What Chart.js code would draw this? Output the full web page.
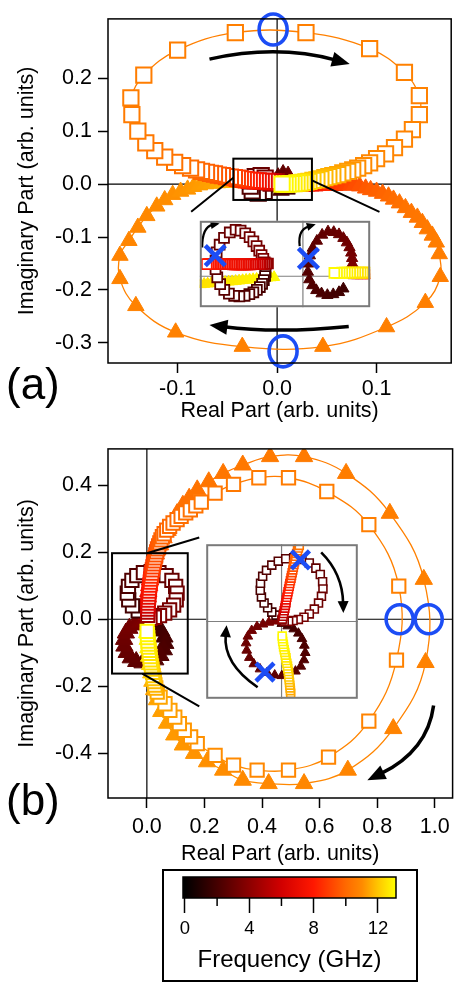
<!DOCTYPE html>
<html><head><meta charset="utf-8">
<script src="https://cdn.jsdelivr.net/npm/chart.js@4.4.1/dist/chart.umd.min.js"></script>
<style>
html,body{margin:0;padding:0;background:#fff;}
body{width:464px;height:982px;position:relative;overflow:hidden;font-family:'Liberation Sans',Arial,sans-serif;}
canvas{position:absolute;}
.lab{position:absolute;font-size:44px;line-height:44px;color:#000;}
#legbox{position:absolute;left:162px;top:869px;width:256px;height:113px;border:2px solid #000;box-sizing:border-box;}
</style></head><body>
<canvas id="ca" width="464" height="430" style="left:0;top:0"></canvas>
<canvas id="cb" width="464" height="440" style="left:0;top:430px"></canvas>
<canvas id="ia"></canvas>
<canvas id="ib"></canvas>
<div id="legbox"></div>
<canvas id="cbar" width="260" height="116" style="left:160px;top:866px"></canvas>
<div class="lab" style="left:6px;top:362px">(a)</div>
<div class="lab" style="left:6px;top:778px">(b)</div>
<script>
// ---------------- DATA ----------------
const X_TITLE = 'Real Part (arb. units)';
const Y_TITLE = 'Imaginary Part (arb. units)';
const CB_TITLE = 'Frequency (GHz)';
const A_X_TICKS = [-0.1, 0, 0.1];
const A_Y_TICKS = [-0.3, -0.2, -0.1, 0, 0.1, 0.2];
const B_X_TICKS = [0, 0.2, 0.4, 0.6, 0.8, 1.0];
const B_Y_TICKS = [-0.4, -0.2, 0, 0.2, 0.4];
const CB_TICKS = [0, 4, 8, 12];
const CB_MINOR = [2, 6, 10];

// panel (a) squares
const A_SQ_X = [-0.013,-0.019,-0.025,-0.027,-0.026,-0.022,-0.016,-0.012,-0.010,-0.006,
 -0.001,-0.004,-0.007,-0.010,-0.013,-0.016,-0.019,-0.022,-0.025,-0.028,-0.031,-0.034,-0.037,-0.040,-0.043,
 -0.047,-0.051,-0.055,-0.059,-0.063,-0.067,-0.071,-0.076,-0.081,-0.087,-0.095,-0.103,-0.113,-0.123,-0.132,-0.140,-0.146,-0.147,-0.134,-0.100,-0.042,
 0.029,0.093,0.128,0.143,0.143,0.136,0.128,0.118,0.109,0.100,0.093,
 0.087,0.081,0.076,0.071,0.066,0.061,0.056,0.052,0.048,0.044,0.040,0.036,
 0.032,0.029,0.026,0.023,0.020,0.017,0.014,0.011,0.008,0.005];
const A_SQ_Y = [-0.014,-0.017,-0.013,-0.004,0.006,0.014,0.016,0.011,0.004,0.002,
 0.004,0.004,0.004,0.005,0.005,0.005,0.006,0.006,0.007,0.007,0.008,0.009,0.010,0.011,0.012,
 0.013,0.014,0.016,0.017,0.019,0.020,0.022,0.024,0.027,0.030,0.035,0.041,0.051,0.063,0.078,0.100,0.131,0.163,0.206,0.253,0.286,
 0.286,0.256,0.211,0.167,0.131,0.103,0.085,0.069,0.057,0.048,0.040,
 0.035,0.030,0.027,0.024,0.021,0.018,0.016,0.014,0.012,0.010,0.008,0.007,
 0.005,0.004,0.003,0.002,0.002,0.001,0.001,0.000,0.000,0.000];
const A_SQ_F = [1.8,2.0,2.2,2.4,2.6,2.8,3.0,3.2,3.4,3.6,
 4.5,5.2,5.8,6.3,6.7,7.0,7.3,7.6,7.8,8.0,8.2,8.4,8.6,8.8,9.0,
 9.2,9.3,9.4,9.5,9.6,9.7,9.8,9.9,10.0,10.1,10.2,10.3,10.35,10.4,10.45,10.5,10.55,10.6,10.62,10.64,10.66,
 10.68,10.7,10.72,10.74,10.76,10.78,10.8,10.82,10.85,10.88,10.92,
 10.97,11.05,11.15,11.25,11.35,11.45,11.55,11.65,11.75,11.85,11.95,12.05,
 12.2,12.35,12.5,12.6,12.7,12.78,12.85,12.92,12.97,13.0];

// panel (a) triangles
const A_TR_X = [0.010,0.004,-0.001,-0.002,0.001,0.006,0.011,0.013,0.012,0.010,
 0.014,0.018,0.022,0.026,0.030,0.034,0.038,0.042,0.046,0.050,0.054,0.058,0.062,0.066,0.070,0.074,0.078,
 0.083,0.089,0.094,0.100,0.106,0.112,0.117,0.123,0.129,0.135,0.141,0.146,0.151,0.156,0.160,0.163,
 0.164,0.149,0.110,0.046,-0.035,-0.102,-0.142,-0.158,-0.158,
 -0.149,-0.140,-0.131,-0.121,-0.113,-0.105,-0.097,-0.090,-0.084,-0.078,-0.072,-0.066,-0.060,-0.054,-0.048,-0.043,
 -0.038,-0.033,-0.028,-0.023,-0.018,-0.013,-0.008,-0.004];
const A_TR_Y = [-0.010,-0.012,-0.006,0.004,0.013,0.019,0.016,0.008,0.000,-0.004,
 -0.004,-0.004,-0.004,-0.004,-0.004,-0.004,-0.004,-0.003,-0.003,-0.003,-0.003,-0.003,-0.002,-0.002,-0.002,-0.002,-0.002,
 -0.004,-0.008,-0.011,-0.014,-0.018,-0.023,-0.029,-0.036,-0.045,-0.054,-0.063,-0.073,-0.085,-0.097,-0.110,-0.132,
 -0.175,-0.224,-0.270,-0.307,-0.307,-0.280,-0.230,-0.179,-0.135,
 -0.107,-0.082,-0.060,-0.042,-0.030,-0.020,-0.014,-0.010,-0.005,-0.002,0.000,0.001,0.002,0.003,0.003,0.003,
 0.003,0.002,0.002,0.001,0.001,0.000,0.000,0.000];
const A_TR_F = [1.8,2.0,2.2,2.4,2.6,2.8,3.0,3.2,3.4,3.6,
 4.5,5.2,5.8,6.3,6.7,7.0,7.3,7.6,7.9,8.1,8.3,8.5,8.7,8.85,9.0,9.15,9.3,
 9.45,9.6,9.7,9.8,9.9,10.0,10.1,10.2,10.3,10.35,10.4,10.45,10.5,10.55,10.6,10.62,
 10.64,10.66,10.68,10.7,10.72,10.74,10.76,10.78,10.8,
 10.85,10.9,10.95,11.0,11.05,11.1,11.15,11.2,11.25,11.3,11.35,11.4,11.5,11.6,11.7,11.8,
 12.0,12.2,12.4,12.55,12.7,12.8,12.9,13.0];

// inset (a) (zoomed units)
const INA_SQ_X = [-42.7,-43.3,-44.7,-46.7,-49.3,-52.7,-56.7,-61.3,-66.7,-72.7,-78.7,-84.7,-90,-94.7,-98,-100,-100,-98.7,-95.3,-90.3,-83.7,-77,-71.3,-66,-61,-56.7,-53,-50,-47.3,-45.3,-43.7,
 -40,-42,-44,-46,-48,-50,-52,-54,-56,-58,-60,-62,-64,-66,-68,-70,-72,-74,-76,-78,-80,-82,-84,-86,-88,-90,-92,-94,-96,-98,-100,-102,-104,-106,-108,-110,
 75,72,69,66,63,60,57,54,51,48,45,42,39,36];
const INA_SQ_Y = [5.3,0.3,-4.7,-9.3,-13.3,-16.7,-19.7,-22,-24,-24.7,-24,-21.3,-16.7,-9.7,-1.3,8.7,19.3,29.3,38.7,47,53.7,57,56,52.7,48,42.7,37,31.3,26,21.3,17,
 15.6,15.4,15.2,15.0,14.9,14.8,14.8,14.7,14.7,14.7,14.6,14.6,14.6,14.6,14.6,14.6,14.6,14.6,14.6,14.6,14.6,14.7,14.7,14.7,14.7,14.7,14.7,14.7,14.8,14.8,14.8,14.8,14.8,14.8,14.8,14.8,
 4.5,4.5,4.5,4.5,4.5,4.5,4.5,4.5,4.4,4.4,4.3,4.2,4.1,4.0];
const INA_SQ_F = [1.8,1.86,1.92,1.98,2.04,2.1,2.16,2.22,2.28,2.34,2.4,2.46,2.52,2.58,2.64,2.7,2.76,2.82,2.88,2.94,3.0,3.06,3.12,3.18,3.24,3.3,3.36,3.42,3.48,3.54,3.6,
 4.0,4.3,4.6,4.9,5.2,5.5,5.7,5.9,6.1,6.3,6.4,6.5,6.6,6.7,6.8,6.9,7.0,7.05,7.1,7.15,7.2,7.25,7.3,7.35,7.4,7.45,7.5,7.55,7.6,7.65,7.7,7.75,7.8,7.85,7.9,8.0,
 12.4,12.45,12.5,12.55,12.6,12.65,12.7,12.75,12.8,12.85,12.9,12.94,12.97,13.0];
const INA_TR_X = [46.3,41.3,34.7,28,21.3,15.3,10.7,7.3,5.7,6,8,11.3,16,22,28.7,35.3,41.3,46.3,50.3,53.3,55.3,56.3,56.7,56.3,55.3,
 58,62,66,70,74,78,
 -117,-113,-109,-105,-101,-97,-93,-89,-85,-81,-77,-73,-69,-65,-61,-57,-53,-49,-45,-41,-37,-33];
const INA_TR_Y = [-15.3,-19.7,-22.3,-23.3,-21.3,-17.3,-11.3,-4,5.3,15.3,25.3,34.7,43.3,50.7,54.7,54,51.3,46.7,41.3,35.3,28.7,22,15.3,9.3,4,
 1,1,1,1,1,1,
 -10,-9.6,-9.2,-8.8,-8.4,-8,-7.6,-7.2,-6.8,-6.4,-6,-5.5,-5,-4.6,-4.2,-3.8,-3.4,-3,-2.5,-2,-1.6,-1.2];
const INA_TR_F = [1.8,1.88,1.95,2.03,2.1,2.18,2.25,2.33,2.4,2.48,2.55,2.63,2.7,2.78,2.85,2.93,3.0,3.08,3.15,3.23,3.3,3.38,3.45,3.53,3.6,
 4.5,5.5,6.3,7.0,7.5,8.0,
 12.5,12.52,12.55,12.57,12.6,12.62,12.64,12.66,12.68,12.7,12.72,12.74,12.76,12.78,12.8,12.83,12.86,12.89,12.92,12.95,12.98,13.0];

// panel (b) squares
const B_SQ_X = [-0.030,-0.050,-0.063,-0.068,-0.064,-0.052,-0.035,-0.012,0.015,0.042,0.067,0.087,0.100,0.105,0.102,0.093,0.079,0.062,0.044,0.026,0.011,
 0.003,0.003,0.003,0.004,0.004,0.005,0.006,0.007,0.008,0.009,0.010,0.012,0.013,0.015,0.017,0.019,0.021,0.023,0.026,0.028,0.031,0.034,0.037,0.041,0.045,0.049,
 0.054,0.060,0.069,0.079,0.091,0.105,0.119,0.135,0.151,0.170,0.189,0.237,0.301,0.389,0.492,0.625,0.771,0.875,0.867,0.771,0.631,0.492,0.383,0.301,0.237,0.175,0.152,0.130,0.113,0.097,0.080,0.063,0.046,0.036,
 0.031,0.028,0.026,0.024,0.022,0.020,0.018,0.016,0.014,0.012,0.011,0.009,0.008,0.006,0.005,0.004,0.003,0.002,0.001];
const B_SQ_Y = [0.025,0.040,0.058,0.078,0.098,0.116,0.130,0.139,0.142,0.139,0.130,0.116,0.098,0.078,0.058,0.042,0.028,0.018,0.011,0.006,0.003,
 0.012,0.021,0.030,0.039,0.048,0.057,0.066,0.075,0.084,0.093,0.102,0.111,0.120,0.129,0.138,0.147,0.156,0.165,0.174,0.183,0.192,0.201,0.210,0.219,0.228,0.237,
 0.246,0.255,0.266,0.277,0.287,0.297,0.307,0.317,0.326,0.338,0.349,0.376,0.402,0.422,0.422,0.381,0.282,0.099,-0.122,-0.304,-0.411,-0.450,-0.450,-0.435,-0.406,-0.371,-0.351,-0.331,-0.311,-0.292,-0.272,-0.252,-0.232,-0.217,
 -0.205,-0.196,-0.186,-0.177,-0.168,-0.158,-0.149,-0.139,-0.130,-0.121,-0.111,-0.102,-0.093,-0.083,-0.074,-0.065,-0.055,-0.046,-0.036];
const B_SQ_F = [1.8,1.9,2.0,2.1,2.2,2.3,2.4,2.5,2.6,2.7,2.8,2.9,3.0,3.1,3.2,3.3,3.4,3.5,3.6,3.8,4.0,
 4.5,5.0,5.5,5.9,6.3,6.6,6.9,7.15,7.4,7.6,7.8,8.0,8.2,8.35,8.5,8.65,8.8,8.95,9.1,9.2,9.3,9.4,9.5,9.6,9.7,9.8,
 9.85,9.9,9.95,10.0,10.05,10.1,10.15,10.2,10.25,10.3,10.35,10.4,10.45,10.5,10.55,10.6,10.65,10.7,10.75,10.8,10.85,10.9,10.95,11.0,11.05,11.1,11.15,11.2,11.25,11.3,11.35,11.4,11.45,11.5,
 11.6,11.7,11.8,11.9,12.0,12.1,12.2,12.3,12.4,12.5,12.55,12.6,12.65,12.7,12.75,12.8,12.85,12.9,13.0];

// panel (b) triangles
const B_TR_X = [0.030,0.050,0.061,0.064,0.059,0.047,0.029,0.008,-0.015,-0.037,-0.056,-0.070,-0.078,-0.079,-0.073,-0.061,-0.044,-0.026,-0.010,0.000,
 -0.001,0.000,0.001,0.003,0.005,0.008,0.011,0.014,0.018,0.022,0.026,0.031,0.036,
 0.046,0.058,0.072,0.088,0.105,0.125,0.147,0.175,0.215,0.265,0.333,0.428,0.546,0.692,0.844,0.962,0.968,0.856,0.698,0.546,0.423,0.333,0.265,0.209,0.164,0.125,0.095,0.070,0.050,0.035,0.025,
 0.019,0.015,0.011,0.008,0.005,0.003,0.001];
const B_TR_Y = [-0.022,-0.035,-0.053,-0.072,-0.091,-0.108,-0.121,-0.128,-0.130,-0.126,-0.115,-0.099,-0.080,-0.060,-0.041,-0.027,-0.017,-0.011,-0.006,0.000,
 0.015,0.032,0.049,0.066,0.083,0.100,0.117,0.134,0.151,0.168,0.182,0.195,0.207,
 0.222,0.243,0.265,0.290,0.315,0.340,0.361,0.386,0.410,0.435,0.460,0.485,0.485,0.435,0.316,0.119,-0.129,-0.326,-0.450,-0.490,-0.490,-0.480,-0.450,-0.425,-0.400,-0.375,-0.345,-0.310,-0.275,-0.240,-0.210,
 -0.185,-0.160,-0.135,-0.110,-0.085,-0.060,-0.040];
const B_TR_F = [1.8,1.9,2.0,2.1,2.2,2.3,2.4,2.5,2.6,2.7,2.8,2.9,3.0,3.1,3.2,3.3,3.4,3.5,3.6,3.7,
 4.5,5.3,6.0,6.6,7.1,7.6,8.0,8.4,8.8,9.1,9.4,9.6,9.8,
 9.9,10.0,10.05,10.1,10.15,10.2,10.25,10.3,10.35,10.4,10.45,10.5,10.55,10.6,10.65,10.7,10.75,10.8,10.85,10.9,10.95,11.0,11.05,11.1,11.15,11.2,11.25,11.3,11.35,11.4,11.45,
 11.6,12.0,12.3,12.6,12.8,12.9,13.0];

// inset (b) (zoomed units)
const INB_SQ_X = [-6.3,-11,-15.7,-19.7,-22.7,-24,-23.7,-21.3,-17,-11,-3.7,4.7,13.7,23,31.3,38.7,43.7,46.3,46.7,45,41.7,37,31.3,25.3,19,13,8,3,0.3,
 1,1.7,2.3,3,3.7,4.3,5,5.3,6,6.7,7.3,8,8.7,9.3,10,10.7,11.3,12,12.7,13.3,14,14.7,15.3,16,17,18,19,20,
 10.3,10,9.7,9.3,9,8.7,8.3,8,7.7,7,6.7,6,5.3,5,4.3,3.7,3,2.3,2,1.3,1,0.7];
const INB_SQ_Y = [7,10.3,15,20.3,27,34.3,42,49.7,56.3,62,66.3,69,70,68.3,64.3,58.7,51.7,43.7,35.7,27.7,20.3,13.7,8.3,4.7,2.3,1,0.3,0.3,1.7,
 2.7,5.7,8.7,11.7,14.7,17.7,20.7,23.7,26.7,29.7,32.7,35.7,38.7,41.7,44.7,47.7,50.7,53.7,56.7,59.7,62.7,65.7,68.7,71.7,74.7,77.7,80.7,83.7,
 -79,-76,-73,-70,-67,-64,-61,-58,-55,-52,-49,-46,-43,-40,-37,-34,-31,-28,-25,-22,-19,-16];
const INB_SQ_F = [1.8,1.86,1.93,2.0,2.06,2.13,2.2,2.26,2.33,2.4,2.46,2.53,2.6,2.66,2.73,2.8,2.86,2.93,3.0,3.06,3.13,3.2,3.26,3.33,3.4,3.46,3.5,3.55,3.6,
 4.2,4.8,5.3,5.8,6.2,6.6,6.9,7.2,7.5,7.7,7.9,8.1,8.3,8.5,8.7,8.85,9.0,9.15,9.3,9.45,9.6,9.7,9.8,9.9,10.0,10.1,10.2,10.3,
 11.4,11.5,11.6,11.7,11.8,11.9,12.0,12.1,12.2,12.3,12.4,12.5,12.6,12.65,12.7,12.75,12.8,12.85,12.9,12.95,12.98,13.0];
const INB_TR_X = [-5.3,0.3,7,13.7,19,23,25.7,26.7,25.3,21.7,15.7,8.3,0.3,-7.7,-16.3,-24.3,-31.3,-36.3,-39.3,-40,-38,-33.7,-27.7,-21,-14.3,-8.3,-3];
const INB_TR_Y = [1.7,-2.3,-5,-8.3,-13,-19,-26.3,-34.3,-42.3,-49.3,-54.7,-58,-59.7,-59,-56.3,-52.3,-46.7,-39.7,-31.7,-23.7,-16.3,-10,-5.7,-3,-1,0.3,1];
const INB_TR_F = [1.8,1.87,1.94,2.0,2.07,2.14,2.2,2.27,2.34,2.4,2.47,2.54,2.6,2.67,2.74,2.8,2.87,2.94,3.0,3.07,3.14,3.2,3.27,3.34,3.4,3.5,3.6];

// annotations (data coordinates of each panel)
const A_CIRCLES = [[-0.004, 0.292], [0.006, -0.316]];
const A_ARROWS = [{from:[-0.068,0.236], via:[0.0,0.2645], to:[0.073,0.227]},
                  {from:[0.072,-0.269], via:[0.0,-0.2825], to:[-0.068,-0.266]}];
const A_ZOOM = {x:[-0.044,0.035], y:[-0.030,0.048]};
const A_INSET = {x:[-0.0864,0.1029], y:[-0.2487,-0.0524]};
const A_LINKS = [[[-0.044,0.012],[-0.0864,-0.0524]], [[0.035,0.007],[0.1029,-0.0524]]];
const B_CIRCLES = [[0.878, 0.0], [0.979, 0.0]];
const B_ARROWS = [{from:[0.996,-0.257], via:[0.975,-0.393], to:[0.766,-0.48]}];
const B_ZOOM = {x:[-0.121,0.142], y:[-0.162,0.197]};
const B_INSET = {x:[0.182,0.7586], y:[-0.260,0.244]};
const B_LINKS = [[[0.0,0.197],[0.182,0.244]], [[-0.016,-0.162],[0.182,-0.260]]];
const INA_RANGE = {x:[-118,77], y:[-38,68]};
const INA_CROSSES = [[-100.3,25.3],[6.3,22]];
const INA_ARROWS = [{from:[-115.3,35.3], via:[-115.3,60.6], to:[-95.3,64.7]},
                    {from:[-3.7,37], via:[-6.1,57], to:[14.7,63.7]}];
const INB_RANGE = {x:[-85,86], y:[-85,85]};
const INB_CROSSES = [[21.3,67.7],[-18.7,-55.7]];
const INB_ARROWS = [{from:[44.7,76], via:[68.8,52.7], to:[69.7,9.3]},
                    {from:[-27,-72.3], via:[-66.1,-46.5], to:[-62,-4]}];

// colormap (frequency -> colour)
const CMAP = [[0,[0,0,0]],[2,[69,0,0]],[4,[140,0,0]],[6,[210,0,0]],[8,[255,24,0]],[10,[255,105,0]],[11,[255,138,0]],[12,[255,198,0]],[13.1,[255,255,0]]];

// ---------------- RENDER ----------------
const BLUE = '#1c4df5';
Chart.defaults.font.family = "'Liberation Sans', Arial, Helvetica, sans-serif";
Chart.defaults.color = '#000';

function cmap(f){
  const rgb = c => 'rgb(' + c.map(v=>Math.round(v)).join(',') + ')';
  if (f <= CMAP[0][0]) return rgb(CMAP[0][1]);
  for (let i=1;i<CMAP.length;i++){
    if (f <= CMAP[i][0]){
      const [f0,c0] = CMAP[i-1], [f1,c1] = CMAP[i];
      const t = (f-f0)/(f1-f0);
      return rgb(c0.map((c,k)=>c+(c1[k]-c)*t));
    }
  }
  return rgb(CMAP[CMAP.length-1][1]);
}
const pts = (X,Y) => X.map((x,i)=>({x, y:Y[i]}));
const fmt1 = v => (Math.abs(v)<1e-9 ? 0 : v).toFixed(1);

function squares(X,Y,F,r,bw,lineW){
  const ds = {data:pts(X,Y), pointStyle:'rect', pointRadius:r, pointHoverRadius:r, pointBorderWidth:bw,
    pointBorderColor:F.map(cmap), pointBackgroundColor:'#ffffff',
    showLine: lineW>0, borderWidth: lineW, tension:0.4, borderColor:'#ff8c1a'};
  if (lineW>0) ds.segment = {borderColor: c => cmap(F[c.p1DataIndex])};
  return ds;
}
function triangles(X,Y,F,r,lineW){
  const cols = F.map(cmap);
  const ds = {data:pts(X,Y), pointStyle:'triangle', pointRadius:r, pointHoverRadius:r, pointBorderWidth:1,
    pointBorderColor:cols, pointBackgroundColor:cols,
    showLine: lineW>0, borderWidth: lineW, tension:0.4, borderColor:'#ff8c1a'};
  if (lineW>0) ds.segment = {borderColor: c => cmap(F[c.p1DataIndex])};
  return ds;
}

function arrow(ctx,p0,pc,p1,lw,hl,hw){
  const ang = Math.atan2(p1[1]-pc[1], p1[0]-pc[0]);
  const c = Math.cos(ang), s = Math.sin(ang);
  const bx = p1[0]-c*hl*0.8, by = p1[1]-s*hl*0.8;
  ctx.save(); ctx.strokeStyle='#000'; ctx.fillStyle='#000'; ctx.lineWidth=lw; ctx.lineCap='butt';
  ctx.beginPath(); ctx.moveTo(p0[0],p0[1]); ctx.quadraticCurveTo(pc[0],pc[1],bx,by); ctx.stroke();
  ctx.beginPath(); ctx.moveTo(p1[0],p1[1]);
  ctx.lineTo(p1[0]-c*hl - s*hw/2, p1[1]-s*hl + c*hw/2);
  ctx.lineTo(p1[0]-c*hl + s*hw/2, p1[1]-s*hl - c*hw/2);
  ctx.closePath(); ctx.fill(); ctx.restore();
}

function decoPlugin(d){
  return {id:'deco',
    beforeDatasetsDraw(ch){
      const {ctx, chartArea:a, scales:{x,y}} = ch;
      ctx.save(); ctx.strokeStyle='#000'; ctx.lineWidth=1.2;
      const x0 = x.getPixelForValue(0), y0 = y.getPixelForValue(0);
      ctx.beginPath(); ctx.moveTo(x0,a.top); ctx.lineTo(x0,a.bottom); ctx.moveTo(a.left,y0); ctx.lineTo(a.right,y0); ctx.stroke();
      ctx.restore();
    },
    afterDatasetsDraw(ch){
      const {ctx, chartArea:a, scales:{x,y}} = ch;
      const P = p => [x.getPixelForValue(p[0]), y.getPixelForValue(p[1])];
      ctx.save();
      ctx.strokeStyle='#000'; ctx.lineWidth=2;
      const [bl,bt] = P([d.zoom.x[0], d.zoom.y[1]]), [br,bb] = P([d.zoom.x[1], d.zoom.y[0]]);
      ctx.strokeRect(bl,bt,br-bl,bb-bt);
      ctx.beginPath();
      d.links.forEach(l=>{const p0=P(l[0]), p1=P(l[1]); ctx.moveTo(p0[0],p0[1]); ctx.lineTo(p1[0],p1[1]);});
      ctx.stroke();
      d.arrows.forEach(ar=>arrow(ctx,P(ar.from),P(ar.via),P(ar.to),3.5,18,15));
      ctx.strokeStyle=BLUE; ctx.lineWidth=3.6;
      d.circles.forEach(c=>{const p=P(c); ctx.beginPath(); ctx.ellipse(p[0],p[1],d.rx,d.ry,0,0,Math.PI*2); ctx.stroke();});
      ctx.strokeStyle='#000'; ctx.lineWidth=1.5;
      ctx.strokeRect(a.left,a.top,a.right-a.left,a.bottom-a.top);
      ctx.restore();
    }};
}

function mainChart(id, c){
  return new Chart(document.getElementById(id), {
    type:'scatter',
    data:{datasets:[c.sq, c.tr]},
    options:{
      responsive:false, animation:false, events:[],
      layout:{padding:{top:c.padTop, right:1, left:0, bottom:0}},
      plugins:{legend:{display:false}, tooltip:{enabled:false}},
      scales:{
        x:{type:'linear', min:c.xMin, max:c.xMax,
          afterFit:s=>{s.height=c.xAxisH;},
          afterBuildTicks:s=>{s.ticks=c.xTicks.map(v=>({value:v}));},
          ticks:{font:{size:21.5}, padding:c.xTickPad, callback:fmt1, maxRotation:0, autoSkip:false, color:'#000'},
          grid:{drawOnChartArea:false, tickLength:10, tickWidth:1.5, tickColor:'#000'},
          border:{display:false},
          title:{display:true, text:X_TITLE, font:{size:21.5}, color:'#000', padding:{top:0, bottom:c.xTitlePad}}},
        y:{type:'linear', min:c.yMin, max:c.yMax,
          afterFit:s=>{s.width=108;},
          afterBuildTicks:s=>{s.ticks=c.yTicks.map(v=>({value:v}));},
          ticks:{font:{size:21.5}, padding:6, callback:fmt1, autoSkip:false, color:'#000'},
          grid:{drawOnChartArea:false, tickLength:10, tickWidth:1.5, tickColor:'#000'},
          border:{display:false},
          title:{display:true, text:Y_TITLE, font:{size:21.5}, color:'#000', padding:{top:14.1, bottom:0}}}
      }
    },
    plugins:[decoPlugin(c.deco)]
  });
}

function insetPlugin(d){
  return {id:'inset',
    beforeDraw(ch){ const {ctx,chartArea:a}=ch; ctx.save(); ctx.fillStyle='#fff'; ctx.fillRect(a.left,a.top,a.right-a.left,a.bottom-a.top); ctx.restore(); },
    beforeDatasetsDraw(ch){
      const {ctx, chartArea:a, scales:{x,y}} = ch;
      ctx.save(); ctx.strokeStyle='#808080'; ctx.lineWidth=1.2;
      const x0=x.getPixelForValue(0), y0=y.getPixelForValue(0);
      ctx.beginPath(); ctx.moveTo(x0,a.top); ctx.lineTo(x0,a.bottom); ctx.moveTo(a.left,y0); ctx.lineTo(a.right,y0); ctx.stroke(); ctx.restore();
    },
    afterDatasetsDraw(ch){
      const {ctx, chartArea:a, scales:{x,y}} = ch;
      const P = p => [x.getPixelForValue(p[0]), y.getPixelForValue(p[1])];
      d.arrows.forEach(ar=>arrow(ctx,P(ar.from),P(ar.via),P(ar.to),d.alw,d.ahl,d.ahw));
      ctx.save(); ctx.strokeStyle=BLUE; ctx.lineWidth=4.5; ctx.lineCap='butt';
      d.crosses.forEach(c=>{const p=P(c), h=d.xs; ctx.beginPath(); ctx.moveTo(p[0]-h,p[1]-h); ctx.lineTo(p[0]+h,p[1]+h); ctx.moveTo(p[0]+h,p[1]-h); ctx.lineTo(p[0]-h,p[1]+h); ctx.stroke();});
      ctx.strokeStyle='#7a7a7a'; ctx.lineWidth=2;
      ctx.strokeRect(a.left+1,a.top+1,a.right-a.left-2,a.bottom-a.top-2);
      ctx.restore();
    }};
}

function insetChart(canvasId, parent, parentTop, box, c){
  const xs=parent.scales.x, ys=parent.scales.y;
  const l=Math.round(xs.getPixelForValue(box.x[0])), r=Math.round(xs.getPixelForValue(box.x[1]));
  const t=Math.round(ys.getPixelForValue(box.y[1])), b=Math.round(ys.getPixelForValue(box.y[0]));
  const cv=document.getElementById(canvasId);
  cv.width=r-l; cv.height=b-t; cv.style.left=l+'px'; cv.style.top=(parentTop+t)+'px';
  return new Chart(cv, {type:'scatter', data:{datasets:[c.sq, c.tr]},
    options:{responsive:false, animation:false, events:[], layout:{padding:0},
      plugins:{legend:{display:false}, tooltip:{enabled:false}},
      scales:{x:{type:'linear', display:false, min:c.range.x[0], max:c.range.x[1]},
              y:{type:'linear', display:false, min:c.range.y[0], max:c.range.y[1]}}},
    plugins:[insetPlugin(c.deco)]});
}

const chartA = mainChart('ca', {
  sq: squares(A_SQ_X, A_SQ_Y, A_SQ_F, 10.8, 2, 1.3),
  tr: triangles(A_TR_X, A_TR_Y, A_TR_F, 9.5, 1.3),
  padTop:12, xMin:-0.170, xMax:0.175, yMin:-0.338, yMax:0.312,
  xAxisH:67, xTickPad:3.2, xTitlePad:6.1, xTicks:A_X_TICKS, yTicks:A_Y_TICKS,
  deco:{zoom:A_ZOOM, links:A_LINKS, arrows:A_ARROWS, circles:A_CIRCLES, rx:14, ry:15.5}
});
const chartB = mainChart('cb', {
  sq: squares(B_SQ_X, B_SQ_Y, B_SQ_F, 9.4, 2, 1.3),
  tr: triangles(B_TR_X, B_TR_Y, B_TR_F, 10, 1.3),
  padTop:17, xMin:-0.135, xMax:1.062, yMin:-0.533, yMax:0.508,
  xAxisH:72, xTickPad:6.6, xTitlePad:2.9, xTicks:B_X_TICKS, yTicks:B_Y_TICKS,
  deco:{zoom:B_ZOOM, links:B_LINKS, arrows:B_ARROWS, circles:B_CIRCLES, rx:13.5, ry:14.5}
});
insetChart('ia', chartA, 0, A_INSET, {
  sq: squares(INA_SQ_X, INA_SQ_Y, INA_SQ_F, 7, 1.8, 0),
  tr: triangles(INA_TR_X, INA_TR_Y, INA_TR_F, 6.5, 0),
  range: INA_RANGE,
  deco:{arrows:INA_ARROWS, crosses:INA_CROSSES, xs:10, alw:2.2, ahl:9, ahw:8}
});
insetChart('ib', chartB, 430, B_INSET, {
  sq: squares(INB_SQ_X, INB_SQ_Y, INB_SQ_F, 5.6, 1.6, 0),
  tr: triangles(INB_TR_X, INB_TR_Y, INB_TR_F, 5.6, 0),
  range: INB_RANGE,
  deco:{arrows:INB_ARROWS, crosses:INB_CROSSES, xs:9, alw:2.6, ahl:12, ahw:11}
});

const cbarPlugin = {id:'cbar',
  beforeDatasetsDraw(ch){
    const {ctx, chartArea:a, scales:{x}} = ch;
    const g = ctx.createLinearGradient(a.left,0,a.right,0);
    CMAP.forEach(([f,c])=>{
      const o = Math.min(1, Math.max(0, (x.getPixelForValue(f)-a.left)/(a.right-a.left)));
      g.addColorStop(o, 'rgb('+c.join(',')+')');
    });
    ctx.save(); ctx.fillStyle=g; ctx.fillRect(a.left,a.top,a.right-a.left,a.bottom-a.top);
    ctx.strokeStyle='#000'; ctx.lineWidth=1.5; ctx.strokeRect(a.left,a.top,a.right-a.left,a.bottom-a.top);
    ctx.lineWidth=1.5; ctx.beginPath();
    CB_MINOR.forEach(v=>{const px=x.getPixelForValue(v); ctx.moveTo(px,a.bottom); ctx.lineTo(px,a.bottom+8);});
    ctx.stroke(); ctx.restore();
  }};
new Chart(document.getElementById('cbar'), {type:'scatter', data:{datasets:[]},
  options:{responsive:false, animation:false, events:[],
    layout:{padding:{left:23, right:24, top:11, bottom:0}},
    plugins:{legend:{display:false}, tooltip:{enabled:false}},
    scales:{
      x:{type:'linear', min:-0.12, max:13.12,
        afterFit:s=>{s.height=84;},
        afterBuildTicks:s=>{s.ticks=CB_TICKS.map(v=>({value:v}));},
        ticks:{font:{size:18.5}, padding:4.5, maxRotation:0, autoSkip:false, color:'#000', callback:v=>String(v)},
        grid:{drawOnChartArea:false, tickLength:15, tickWidth:1.5, tickColor:'#000'},
        border:{display:false},
        title:{display:true, text:CB_TITLE, font:{size:24}, color:'#000', padding:{top:0, bottom:7.6}}},
      y:{display:false, min:0, max:1}
    }},
  plugins:[cbarPlugin]});
</script>
</body></html>
